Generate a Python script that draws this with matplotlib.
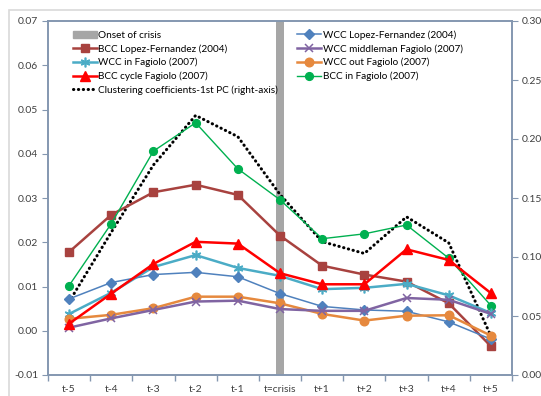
import numpy as np
import matplotlib
matplotlib.use("Agg")
import matplotlib.pyplot as plt
from matplotlib.patches import Rectangle, Patch
from matplotlib.lines import Line2D

plt.rcParams['font.family'] = ['Lato', 'DejaVu Sans']

periods = ["t-5", "t-4", "t-3", "t-2", "t-1", "t=crisis",
           "t+1", "t+2", "t+3", "t+4", "t+5"]

# left-axis series
bcc_lopez = [0.0178, 0.0262, 0.0313, 0.0330, 0.0307, 0.0215,
             0.0147, 0.0127, 0.0111, 0.0062, -0.0035]
wcc_in = [0.0038, 0.0086, 0.0144, 0.0171, 0.0142, 0.0124,
          0.0094, 0.0097, 0.0106, 0.0080, 0.0040]
bcc_cycle = [0.0016, 0.0084, 0.0151, 0.0201, 0.0197, 0.0130,
             0.0105, 0.0105, 0.0184, 0.0160, 0.0085]
wcc_lopez = [0.0072, 0.0109, 0.0127, 0.0132, 0.0122, 0.0084,
             0.0055, 0.0047, 0.0044, 0.0020, -0.0019]
wcc_middle = [0.0007, 0.0028, 0.0047, 0.0066, 0.0068, 0.0049,
              0.0045, 0.0045, 0.0074, 0.0070, 0.0038]
wcc_out = [0.0027, 0.0036, 0.0051, 0.0077, 0.0077, 0.0062,
           0.0038, 0.0023, 0.0034, 0.0035, -0.0011]
bcc_in = [0.0102, 0.0242, 0.0406, 0.0470, 0.0366, 0.0296,
          0.0208, 0.0219, 0.0239, 0.0164, 0.0057]

# right-axis series
clust_pc1 = [0.062, 0.121, 0.178, 0.220, 0.202, 0.153,
             0.113, 0.103, 0.134, 0.112, 0.033]
onset = [0, 0, 0, 0, 0, 0.30, 0, 0, 0, 0, 0]

x = np.arange(len(periods))

fig = plt.figure(figsize=(5.41, 3.96), dpi=100)
ax = fig.add_axes([48/541, 1-375/396, (512-48)/541, (375-21)/396])
ax2 = ax.twinx()
ax.set_zorder(ax2.get_zorder() + 1)
ax.patch.set_visible(False)

axcol = "#8497b0"
txtcol = "#404040"
dots = (0, (0.1, 1.5))

ax2.bar(x, onset, width=0.19, color="#a6a6a6", zorder=1)
ax2.plot(x, clust_pc1, color="black", lw=2.2, linestyle=dots,
         dash_capstyle="round", zorder=2)

ax.plot(x, bcc_lopez, color="#a8423f", lw=1.8, marker="s", ms=5.8)
ax.plot(x, bcc_in, color="#00b050", lw=1.0, marker="o", ms=5.6)
ax.plot(x, wcc_in, color="#4bacc6", lw=1.8, marker=(6, 2, 0), ms=7,
        mew=1.2, mec="#4bacc6")
ax.plot(x, wcc_lopez, color="#4f81bd", lw=1.1, marker="D", ms=4.6)
ax.plot(x, wcc_out, color="#e6893e", lw=1.8, marker="o", ms=6.2)
ax.plot(x, wcc_middle, color="#8064a2", lw=1.8, marker="x", ms=5.5, mew=1.1)
ax.plot(x, bcc_cycle, color="#ff0000", lw=1.8, marker="^", ms=6.5)

ax.set_xlim(-0.5, 10.5)
ax.set_ylim(-0.01, 0.07)
ax2.set_ylim(0, 0.30)

ax.set_yticks(np.arange(-0.01, 0.0701, 0.01))
ax.set_yticklabels([f"{v:.2f}" for v in np.arange(-0.01, 0.0701, 0.01)])
ax2.set_yticks(np.arange(0, 0.301, 0.05))
ax2.set_yticklabels([f"{v:.2f}" for v in np.arange(0, 0.301, 0.05)])

ax.set_xticks(x)
ax.set_xticklabels(periods)
ax.set_xticks(np.arange(-0.5, 10.6, 1), minor=True)
ax.tick_params(axis="x", which="major", length=0, pad=7, labelsize=7.5,
               colors=txtcol)
ax.tick_params(axis="x", which="minor", length=4, color=axcol, width=1)
ax.tick_params(axis="y", length=4, color=axcol, labelsize=7.5,
               labelcolor=txtcol, pad=3)
ax2.tick_params(axis="y", length=4, color=axcol, labelsize=7.5,
                labelcolor=txtcol, pad=3)

for a in (ax, ax2):
    for s in a.spines.values():
        s.set_color(axcol)
        s.set_linewidth(1.2)

handles = [
    Patch(color="#a6a6a6"),
    Line2D([], [], color="#a8423f", lw=1.8, marker="s", ms=5.8),
    Line2D([], [], color="#4bacc6", lw=1.8, marker=(6, 2, 0), ms=7, mew=1.2),
    Line2D([], [], color="#ff0000", lw=1.8, marker="^", ms=6.5),
    Line2D([], [], color="black", lw=2.2, linestyle=dots,
           dash_capstyle="round"),
    Line2D([], [], color="#4f81bd", lw=1.1, marker="D", ms=4.6),
    Line2D([], [], color="#8064a2", lw=1.8, marker="x", ms=5.5, mew=1.1),
    Line2D([], [], color="#e6893e", lw=1.8, marker="o", ms=6.2),
    Line2D([], [], color="#00b050", lw=1.0, marker="o", ms=5.6),
]
labels = ["Onset of crisis", "BCC Lopez-Fernandez (2004)",
          "WCC in Fagiolo (2007)", "BCC cycle Fagiolo (2007)",
          "Clustering coefficients-1st PC (right-axis)",
          "WCC Lopez-Fernandez (2004)", "WCC middleman Fagiolo (2007)",
          "WCC out Fagiolo (2007)", "BCC in Fagiolo (2007)"]
leg = ax.legend(handles, labels, ncol=2, loc="upper left",
                bbox_to_anchor=(0.045, 0.985), frameon=False, fontsize=7.2,
                handlelength=2.4, handleheight=0.7, handletextpad=0.15,
                columnspacing=1.9, labelspacing=0.42, borderaxespad=0)
for t in leg.get_texts():
    t.set_color("black")

# outer chart frame
fig.patches.append(Rectangle((9/541, -0.1), 1.2, 1 - 10/396 + 0.1,
                             transform=fig.transFigure, fill=False,
                             edgecolor="#d9d9d9", lw=1.2))

fig.savefig("out.png", dpi=100)
